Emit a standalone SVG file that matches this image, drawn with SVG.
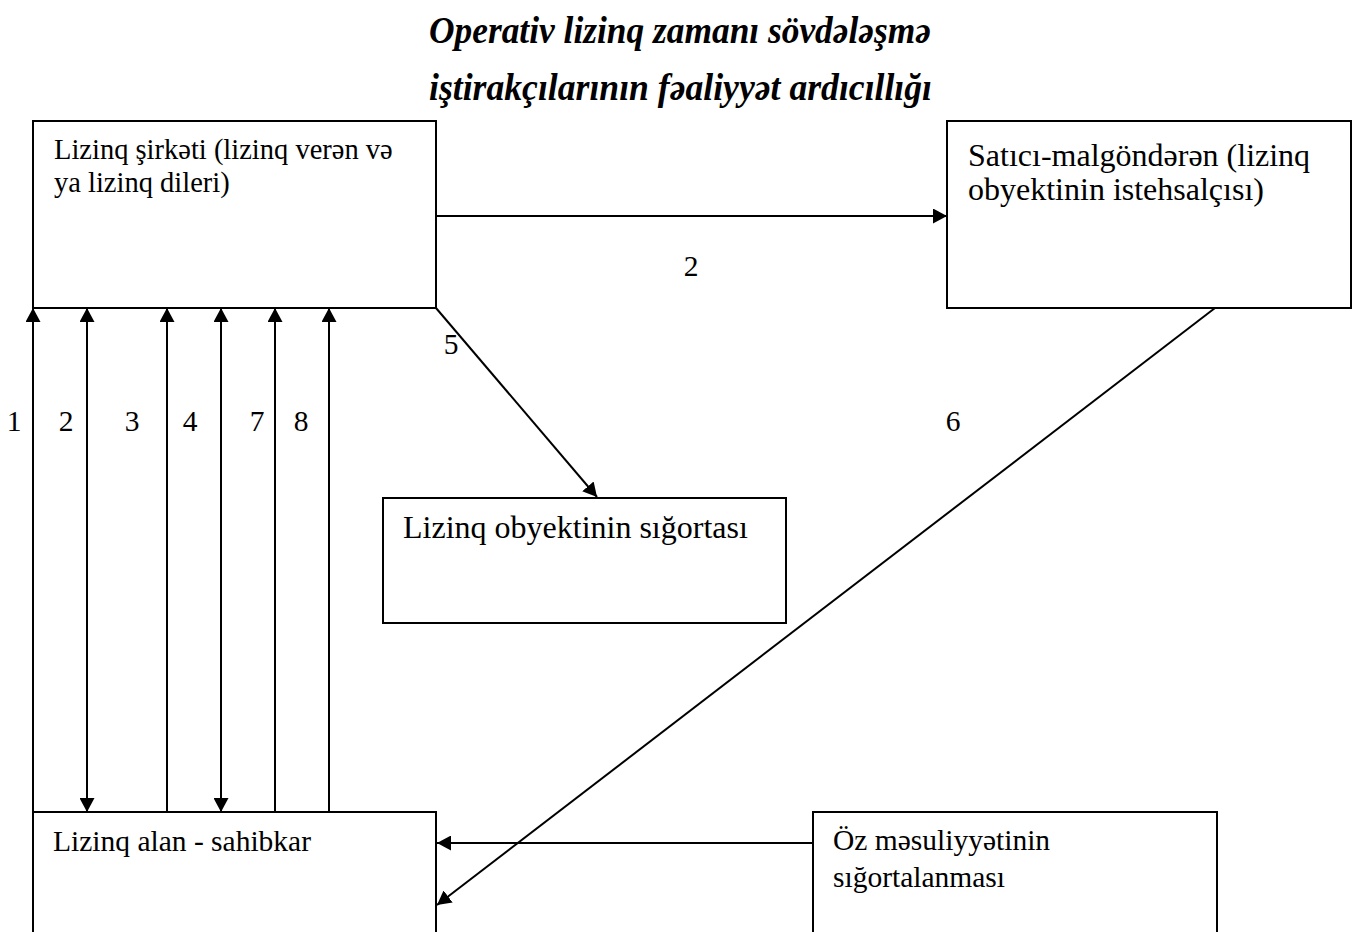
<svg xmlns="http://www.w3.org/2000/svg" width="1357" height="932" viewBox="0 0 1357 932">
<style>
.box{fill:#fff;stroke:#000;stroke-width:2}
.t{font-family:"Liberation Serif","Times New Roman",serif;font-size:28.5px;fill:#000}
.lg{font-size:32px}
.md{font-size:29.5px}
.title{font-family:"Liberation Serif","Times New Roman",serif;font-size:38px;font-weight:bold;font-style:italic;fill:#000}
.c{stroke:#000;stroke-width:2;fill:none}
</style>
<defs>
<marker id="ah" markerUnits="userSpaceOnUse" markerWidth="15" markerHeight="15" refX="14" refY="7.5" orient="auto-start-reverse" viewBox="0 0 15 15">
<path d="M0,0 L14,7.5 L0,15 z" fill="#000"/>
</marker>
</defs>
<rect width="1357" height="932" fill="#fff"/>
<g id="title">
<text class="title" x="429" y="43" textLength="502" lengthAdjust="spacingAndGlyphs">Operativ lizinq zamanı sövdələşmə</text>
<text class="title" x="429" y="100" textLength="503" lengthAdjust="spacingAndGlyphs">iştirakçılarının fəaliyyət ardıcıllığı</text>
</g>
<g id="node-lizinq-sirketi">
<rect class="box" x="33" y="121" width="403" height="187"/>
<text class="t" x="54" y="159">Lizinq şirkəti (lizinq verən və</text>
<text class="t" x="54" y="192">ya lizinq dileri)</text>
</g>
<g id="node-satici">
<rect class="box" x="947" y="121" width="404" height="187"/>
<text class="t lg" x="968" y="166">Satıcı-malgöndərən (lizinq</text>
<text class="t lg" x="968" y="200">obyektinin istehsalçısı)</text>
</g>
<g id="node-sigorta">
<rect class="box" x="383" y="498" width="403" height="125"/>
<text class="t lg" x="403" y="538">Lizinq obyektinin sığortası</text>
</g>
<g id="node-lizinq-alan">
<rect class="box" x="33" y="812" width="403" height="130"/>
<text class="t md" x="53" y="851">Lizinq alan - sahibkar</text>
</g>
<g id="node-oz-mesuliyyet">
<rect class="box" x="813" y="812" width="404" height="130"/>
<text class="t md" x="833" y="850">Öz məsuliyyətinin</text>
<text class="t md" x="833" y="887">sığortalanması</text>
</g>
<g id="connectors">
<line class="c" x1="436" y1="216" x2="947" y2="216" marker-end="url(#ah)"/>
<line class="c" x1="33" y1="812" x2="33" y2="308" marker-end="url(#ah)"/>
<line class="c" x1="87" y1="812" x2="87" y2="308" marker-start="url(#ah)" marker-end="url(#ah)"/>
<line class="c" x1="167" y1="812" x2="167" y2="308" marker-end="url(#ah)"/>
<line class="c" x1="221" y1="812" x2="221" y2="308" marker-start="url(#ah)" marker-end="url(#ah)"/>
<line class="c" x1="275" y1="812" x2="275" y2="308" marker-end="url(#ah)"/>
<line class="c" x1="329" y1="812" x2="329" y2="308" marker-end="url(#ah)"/>
<line class="c" x1="436" y1="308" x2="597" y2="497" marker-end="url(#ah)"/>
<line class="c" x1="1215" y1="308" x2="437" y2="905" marker-end="url(#ah)"/>
<line class="c" x1="813" y1="843" x2="437" y2="843" marker-end="url(#ah)"/>
<g>
<text class="t md" x="691" y="276" text-anchor="middle">2</text>
<text class="t md" x="14" y="431" text-anchor="middle">1</text>
<text class="t md" x="66" y="431" text-anchor="middle">2</text>
<text class="t md" x="132" y="431" text-anchor="middle">3</text>
<text class="t md" x="190" y="431" text-anchor="middle">4</text>
<text class="t md" x="257" y="431" text-anchor="middle">7</text>
<text class="t md" x="301" y="431" text-anchor="middle">8</text>
<text class="t md" x="451" y="354" text-anchor="middle">5</text>
<text class="t md" x="953" y="431" text-anchor="middle">6</text>
</g>
</g>
</svg>
